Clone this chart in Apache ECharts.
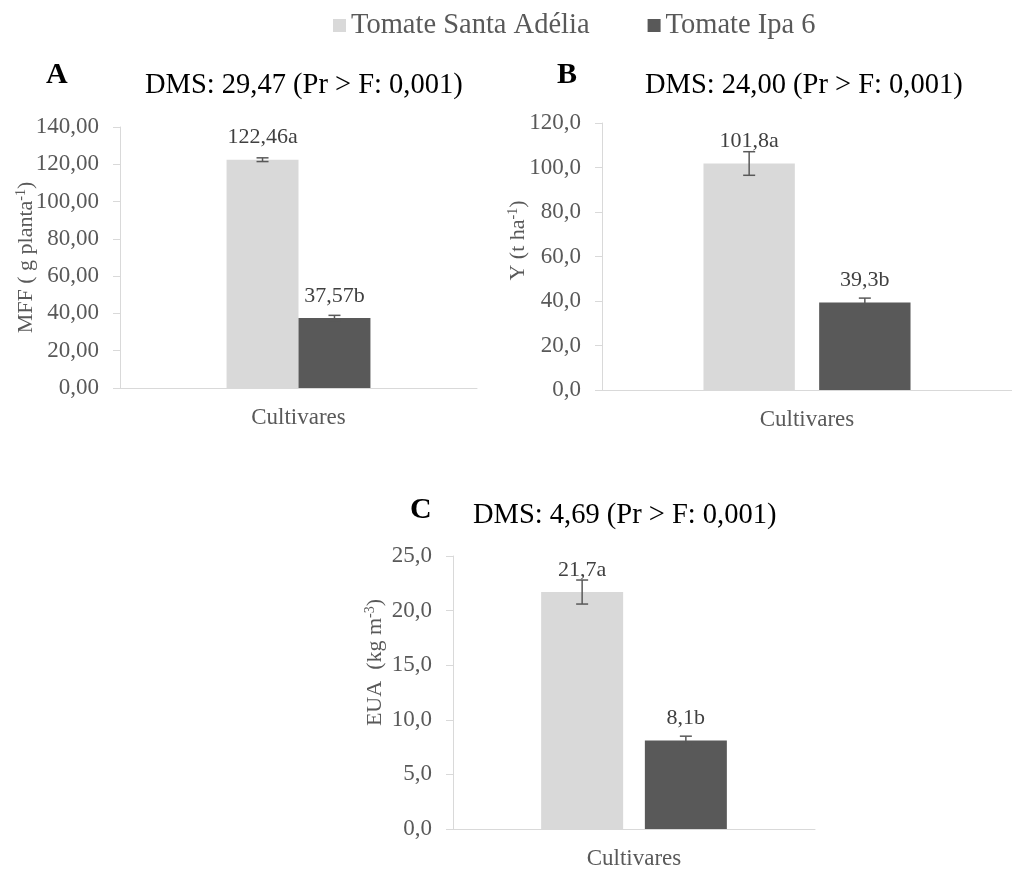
<!DOCTYPE html>
<html>
<head>
<meta charset="utf-8">
<script src="https://cdn.jsdelivr.net/npm/echarts@6/dist/echarts.min.js"></script>
<style>
  html, body { margin: 0; padding: 0; background: #fff; }
  #chart { width: 1012px; height: 870px; }
</style>
</head>
<body>
<div id="chart"></div>
<script>
// dados
const cultivares = ['Tomate Santa Adélia', 'Tomate Ipa 6'];
const xCat = ['Cultivares'];
const letras = ['a', 'b'];

const mffMedia = [122.46, 37.57];
const mffErro = [1.0, 1.4];
const yMedia = [101.8, 39.3];
const yErro = [5.3, 2.0];
const euaMedia = [21.7, 8.1];
const euaErro = [1.1, 0.4];

const titulos = ['DMS: 29,47 (Pr > F: 0,001)', 'DMS: 24,00 (Pr > F: 0,001)', 'DMS: 4,69 (Pr > F: 0,001)'];
const letrasPainel = ['A', 'B', 'C'];

const cores = ['#d9d9d9', '#595959'];
const serif = "'Liberation Serif', 'Times New Roman', serif";
const cinza = '#595959';

// layout dos 3 paineis
const paineis = [
  { grid: { left: 120, top: 127, width: 357, height: 261 }, max: 140, interval: 20, dec: 2, catGap: 0.597, barGap: 0,
    nome: '{n|MFF ( g planta}{s|-1}{n|)}', nameGap: 81, nomePad: 0, media: mffMedia, erro: mffErro },
  { grid: { left: 602, top: 123, width: 422, height: 267 }, max: 120, interval: 20, dec: 1, catGap: 0.495, barGap: 0.266,
    nome: '{n|Y (t ha}{s|-1}{n|)}', nameGap: 71, nomePad: 32, media: yMedia, erro: yErro },
  { grid: { left: 453, top: 556, width: 362, height: 275 }, max: 25, interval: 5, dec: 1, catGap: 0.487, barGap: 0.265,
    nome: '{n|EUA  (kg m}{s|-3}{n|)}', nameGap: 65, nomePad: 60, media: euaMedia, erro: euaErro }
];

const fmt = (v, d) => v.toFixed(d).replace('.', ',');

const grids = [], xAxes = [], yAxes = [], series = [];
paineis.forEach((p, i) => {
  grids.push(p.grid);
  xAxes.push({
    type: 'category', gridIndex: i, data: xCat,
    axisLine: { lineStyle: { color: '#d9d9d9', width: 1 } },
    axisTick: { show: false },
    axisLabel: { color: cinza, fontFamily: serif, fontSize: 23, margin: 18 }
  });
  yAxes.push({
    type: 'value', gridIndex: i, min: 0, max: p.max, interval: p.interval,
    name: p.nome, nameLocation: 'middle', nameGap: p.nameGap, nameRotate: 90,
    nameMoveOverlap: false,
    nameTextStyle: {
      padding: [0, 0, 0, p.nomePad],
      rich: {
        n: { fontFamily: serif, fontSize: 22, color: cinza, lineHeight: 25 },
        s: { fontFamily: serif, fontSize: 14, color: cinza, verticalAlign: 'top', lineHeight: 25 }
      }
    },
    axisLine: { show: true, lineStyle: { color: '#d9d9d9', width: 1 } },
    axisTick: { show: true, length: 7, lineStyle: { color: '#d9d9d9' } },
    splitLine: { show: false },
    axisLabel: { color: cinza, fontFamily: serif, fontSize: 23, margin: 21, formatter: v => fmt(v, p.dec) }
  });
  cultivares.forEach((c, k) => {
    series.push({
      name: c, type: 'bar', xAxisIndex: i, yAxisIndex: i,
      data: [p.media[k]],
      barGap: (p.barGap * 100) + '%',
      barCategoryGap: (p.catGap * 100) + '%',
      itemStyle: { color: cores[k] },
      label: {
        show: true, position: 'top', distance: 11,
        color: '#404040', fontFamily: serif, fontSize: 22,
        formatter: prm => fmt(prm.value, p.dec) + letras[k]
      }
    });
  });
  // barras de erro
  series.push({
    type: 'custom', xAxisIndex: i, yAxisIndex: i, z: 5,
    data: p.media.map((m, k) => [0, m, p.erro[k], k]),
    renderItem: (params, api) => {
      const k = api.value(3);
      const m = api.value(1), e = api.value(2);
      const band = api.size([1, 0])[0];
      const area = band * (1 - p.catGap);
      const w = area / (2 + p.barGap);
      const off = (w + p.barGap * w) / 2 * (k === 0 ? -1 : 1);
      const x = api.coord([0, m])[0] + off;
      const yt = api.coord([0, m + e])[1];
      const yb = api.coord([0, m - e])[1];
      const cap = 6;
      const st = { stroke: '#595959', lineWidth: 1.5 };
      return {
        type: 'group',
        children: [
          { type: 'line', shape: { x1: x, y1: yt, x2: x, y2: yb }, style: st },
          { type: 'line', shape: { x1: x - cap, y1: yt, x2: x + cap, y2: yt }, style: st },
          { type: 'line', shape: { x1: x - cap, y1: yb, x2: x + cap, y2: yb }, style: st }
        ]
      };
    }
  });
});

const titulosOpt = [
  { text: letrasPainel[0], left: 46, top: 60 },
  { text: titulos[0], left: 145, top: 71 },
  { text: letrasPainel[1], left: 557, top: 60 },
  { text: titulos[1], left: 645, top: 71 },
  { text: letrasPainel[2], left: 410, top: 495 },
  { text: titulos[2], left: 473, top: 501 }
].map((t, j) => ({
  text: t.text, left: t.left, top: t.top, padding: 0,
  textStyle: {
    fontFamily: serif, color: '#000',
    fontSize: j % 2 === 0 ? 30 : 28.5,
    fontWeight: j % 2 === 0 ? 'bold' : 'normal'
  }
}));

const chart = echarts.init(document.getElementById('chart'));
chart.setOption({
  animation: false,
  backgroundColor: '#fff',
  title: titulosOpt,
  legend: {
    data: cultivares, left: 333, top: 11, padding: 0,
    icon: 'rect', itemWidth: 13, itemHeight: 13, itemGap: 58,
    textStyle: { fontFamily: serif, fontSize: 28.5, color: cinza }
  },
  grid: grids,
  xAxis: xAxes,
  yAxis: yAxes,
  series: series
});
</script>
</body>
</html>
